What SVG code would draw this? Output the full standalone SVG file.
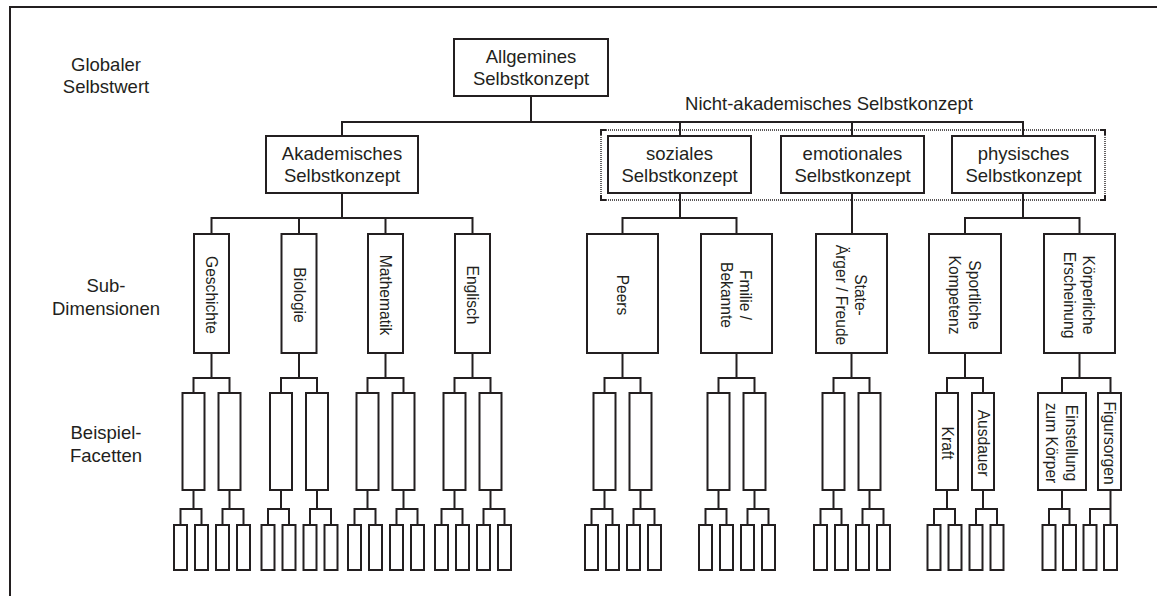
<svg xmlns="http://www.w3.org/2000/svg" width="1157" height="596" viewBox="0 0 1157 596">
<style>
.box{fill:#fff;stroke:#231f20;stroke-width:2}
.ln{fill:none;stroke:#231f20;stroke-width:2}
.dot{fill:none;stroke:#231f20;stroke-width:1.4;stroke-dasharray:1 1}
.t{font-family:"Liberation Sans",Arial,sans-serif;font-size:18.5px;fill:#231f20;text-anchor:middle}
.v{font-family:"Liberation Sans",Arial,sans-serif;font-size:15.6px;fill:#231f20;text-anchor:middle}
</style>
<rect width="1157" height="596" fill="#fff"/>
<path class="ln" d="M10,596V7H1157"/>

<g id="labels">
<text class="t" x="106" y="71">Globaler</text>
<text class="t" x="106" y="93">Selbstwert</text>
<text class="t" x="106" y="292">Sub-</text>
<text class="t" x="106" y="315">Dimensionen</text>
<text class="t" x="106" y="439">Beispiel-</text>
<text class="t" x="106" y="462">Facetten</text>
<text class="t" x="829" y="110">Nicht-akademisches Selbstkonzept</text>
</g>

<g id="connectors">
<path class="ln" d="M531,96V122M342,136V122H1023V136M680,122V136M852,122V136"/>
<path class="ln" d="M342,193V218M211.5,234V218H472.5V234M299,218V234M385.5,218V234"/>
<path class="ln" d="M680,193V218M622.5,234V218H736.5V234"/>
<path class="ln" d="M852,193V234"/>
<path class="ln" d="M1023,193V218M965,234V218H1079.5V234"/>
<!-- level 3 -->
<path class="ln" d="M211.5,353V378M193.5,393V378H229.5V393"/>
<path class="ln" d="M299,353V378M281,393V378H317V393"/>
<path class="ln" d="M385.5,353V378M367.5,393V378H403.5V393"/>
<path class="ln" d="M472.5,353V378M454.5,393V378H490.5V393"/>
<path class="ln" d="M622.5,353V378M604.5,393V378H640.5V393"/>
<path class="ln" d="M736.5,353V378M718.5,393V378H754.5V393"/>
<path class="ln" d="M851.5,353V378M833.5,393V378H869.5V393"/>
<path class="ln" d="M965,353V378M947,393V378H983V393"/>
<path class="ln" d="M1079.5,353V378M1062,393V378H1110.5V393"/>
<!-- level 4 -->
<path class="ln" d="M193.5,490V509M180.5,525V509H201.5V525M229.5,490V509M222.5,525V509H243.5V525"/>
<path class="ln" d="M281,490V509M268,525V509H289V525M317,490V509M310,525V509H331V525"/>
<path class="ln" d="M367.5,490V509M354.5,525V509H375.5V525M403.5,490V509M396.5,525V509H417.5V525"/>
<path class="ln" d="M454.5,490V509M441.5,525V509H462.5V525M490.5,490V509M483.5,525V509H504.5V525"/>
<path class="ln" d="M604.5,490V509M591.5,525V509H612.5V525M640.5,490V509M633.5,525V509H654.5V525"/>
<path class="ln" d="M718.5,490V509M705.5,525V509H726.5V525M754.5,490V509M747.5,525V509H768.5V525"/>
<path class="ln" d="M833.5,490V509M820.5,525V509H841.5V525M869.5,490V509M862.5,525V509H883.5V525"/>
<path class="ln" d="M947,490V509M934,525V509H955V525M983,490V509M976,525V509H997V525"/>
<path class="ln" d="M1062,490V509M1049,525V509H1069.5V525M1110.5,490V525M1110.5,509H1090V525"/>
</g>

<g id="nicht-akademisch-frame">
<path class="dot" d="M606,130H1100M606,200H1100M601,135V195M1105,135V195"/>
<path class="ln" d="M606,130H601V135M601,195V200H606M1100,130H1105V135M1105,195V200H1100"/>
</g>

<g id="allgemeines">
<rect class="box" x="454" y="39" width="154" height="57"/>
<text class="t" x="531" y="63">Allgemines</text>
<text class="t" x="531" y="85">Selbstkonzept</text>
</g>
<g id="akademisches">
<rect class="box" x="266" y="136" width="152" height="57"/>
<text class="t" x="342" y="159.5">Akademisches</text>
<text class="t" x="342" y="181.5">Selbstkonzept</text>
</g>
<g id="soziales">
<rect class="box" x="608" y="136" width="143" height="57"/>
<text class="t" x="679.5" y="159.5">soziales</text>
<text class="t" x="679.5" y="181.5">Selbstkonzept</text>
</g>
<g id="emotionales">
<rect class="box" x="781" y="136" width="143" height="57"/>
<text class="t" x="852.5" y="159.5">emotionales</text>
<text class="t" x="852.5" y="181.5">Selbstkonzept</text>
</g>
<g id="physisches">
<rect class="box" x="952" y="136" width="143" height="57"/>
<text class="t" x="1023.5" y="159.5">physisches</text>
<text class="t" x="1023.5" y="181.5">Selbstkonzept</text>
</g>

<g id="geschichte">
<rect class="box" x="194" y="234" width="35" height="119"/>
<text class="v" transform="translate(211.5,295) rotate(90)" y="5.5">Geschichte</text>
</g>
<g id="biologie">
<rect class="box" x="281.5" y="234" width="35" height="119"/>
<text class="v" transform="translate(299,295) rotate(90)" y="5.5">Biologie</text>
</g>
<g id="mathematik">
<rect class="box" x="368" y="234" width="35" height="119"/>
<text class="v" transform="translate(385.5,295) rotate(90)" y="5.5">Mathematik</text>
</g>
<g id="englisch">
<rect class="box" x="455" y="234" width="35" height="119"/>
<text class="v" transform="translate(472.5,295) rotate(90)" y="5.5">Englisch</text>
</g>
<g id="peers">
<rect class="box" x="587" y="234" width="71" height="119"/>
<text class="v" transform="translate(622.5,295) rotate(90)" y="5.5">Peers</text>
</g>
<g id="familie">
<rect class="box" x="701" y="234" width="71" height="119"/>
<text class="v" transform="translate(736.5,295) rotate(90)" y="-3.5">Fmilie /</text>
<text class="v" transform="translate(736.5,295) rotate(90)" y="16">Bekannte</text>
</g>
<g id="state">
<rect class="box" x="816" y="234" width="71" height="119"/>
<text class="v" transform="translate(851.5,295) rotate(90)" y="-3.5">State-</text>
<text class="v" transform="translate(851.5,295) rotate(90)" y="16">Ärger / Freude</text>
</g>
<g id="sportliche">
<rect class="box" x="929" y="234" width="72" height="119"/>
<text class="v" transform="translate(965,295) rotate(90)" y="-3.5">Sportliche</text>
<text class="v" transform="translate(965,295) rotate(90)" y="16">Kompetenz</text>
</g>
<g id="koerperliche">
<rect class="box" x="1044" y="234" width="71" height="119"/>
<text class="v" transform="translate(1079.5,295) rotate(90)" y="-3.5">Körperliche</text>
<text class="v" transform="translate(1079.5,295) rotate(90)" y="16">Erscheinung</text>
</g>

<g id="facetten">
<rect class="box" x="182.5" y="393" width="22" height="97"/>
<rect class="box" x="218.5" y="393" width="22" height="97"/>
<rect class="box" x="270" y="393" width="22" height="97"/>
<rect class="box" x="306" y="393" width="22" height="97"/>
<rect class="box" x="356.5" y="393" width="22" height="97"/>
<rect class="box" x="392.5" y="393" width="22" height="97"/>
<rect class="box" x="443.5" y="393" width="22" height="97"/>
<rect class="box" x="479.5" y="393" width="22" height="97"/>
<rect class="box" x="593.5" y="393" width="22" height="97"/>
<rect class="box" x="629.5" y="393" width="22" height="97"/>
<rect class="box" x="707.5" y="393" width="22" height="97"/>
<rect class="box" x="743.5" y="393" width="22" height="97"/>
<rect class="box" x="822.5" y="393" width="22" height="97"/>
<rect class="box" x="858.5" y="393" width="22" height="97"/>
</g>
<g id="kraft">
<rect class="box" x="936" y="393" width="22" height="97"/>
<text class="v" transform="translate(947,443) rotate(90)" y="5.5">Kraft</text>
</g>
<g id="ausdauer">
<rect class="box" x="972" y="393" width="22" height="97"/>
<text class="v" transform="translate(983,443) rotate(90)" y="5.5">Ausdauer</text>
</g>
<g id="einstellung">
<rect class="box" x="1038" y="393" width="48" height="97"/>
<text class="v" transform="translate(1062,443) rotate(90)" y="-3.5">Einstellung</text>
<text class="v" transform="translate(1062,443) rotate(90)" y="16">zum Körper</text>
</g>
<g id="figursorgen">
<rect class="box" x="1098" y="393" width="23" height="97"/>
<text class="v" transform="translate(1109.5,443) rotate(90)" y="5.5">Figursorgen</text>
</g>

<g id="unterfacetten">
<rect class="box" x="174" y="525" width="13" height="45"/>
<rect class="box" x="195" y="525" width="13" height="45"/>
<rect class="box" x="216" y="525" width="13" height="45"/>
<rect class="box" x="237" y="525" width="13" height="45"/>
<rect class="box" x="261.5" y="525" width="13" height="45"/>
<rect class="box" x="282.5" y="525" width="13" height="45"/>
<rect class="box" x="303.5" y="525" width="13" height="45"/>
<rect class="box" x="324.5" y="525" width="13" height="45"/>
<rect class="box" x="348" y="525" width="13" height="45"/>
<rect class="box" x="369" y="525" width="13" height="45"/>
<rect class="box" x="390" y="525" width="13" height="45"/>
<rect class="box" x="411" y="525" width="13" height="45"/>
<rect class="box" x="435" y="525" width="13" height="45"/>
<rect class="box" x="456" y="525" width="13" height="45"/>
<rect class="box" x="477" y="525" width="13" height="45"/>
<rect class="box" x="498" y="525" width="13" height="45"/>
<rect class="box" x="585" y="525" width="13" height="45"/>
<rect class="box" x="606" y="525" width="13" height="45"/>
<rect class="box" x="627" y="525" width="13" height="45"/>
<rect class="box" x="648" y="525" width="13" height="45"/>
<rect class="box" x="699" y="525" width="13" height="45"/>
<rect class="box" x="720" y="525" width="13" height="45"/>
<rect class="box" x="741" y="525" width="13" height="45"/>
<rect class="box" x="762" y="525" width="13" height="45"/>
<rect class="box" x="814" y="525" width="13" height="45"/>
<rect class="box" x="835" y="525" width="13" height="45"/>
<rect class="box" x="856" y="525" width="13" height="45"/>
<rect class="box" x="877" y="525" width="13" height="45"/>
<rect class="box" x="927.5" y="525" width="13" height="45"/>
<rect class="box" x="948.5" y="525" width="13" height="45"/>
<rect class="box" x="969.5" y="525" width="13" height="45"/>
<rect class="box" x="990.5" y="525" width="13" height="45"/>
<rect class="box" x="1042.5" y="525" width="13" height="45"/>
<rect class="box" x="1063" y="525" width="13" height="45"/>
<rect class="box" x="1083.5" y="525" width="13" height="45"/>
<rect class="box" x="1104" y="525" width="13" height="45"/>
</g>
</svg>
